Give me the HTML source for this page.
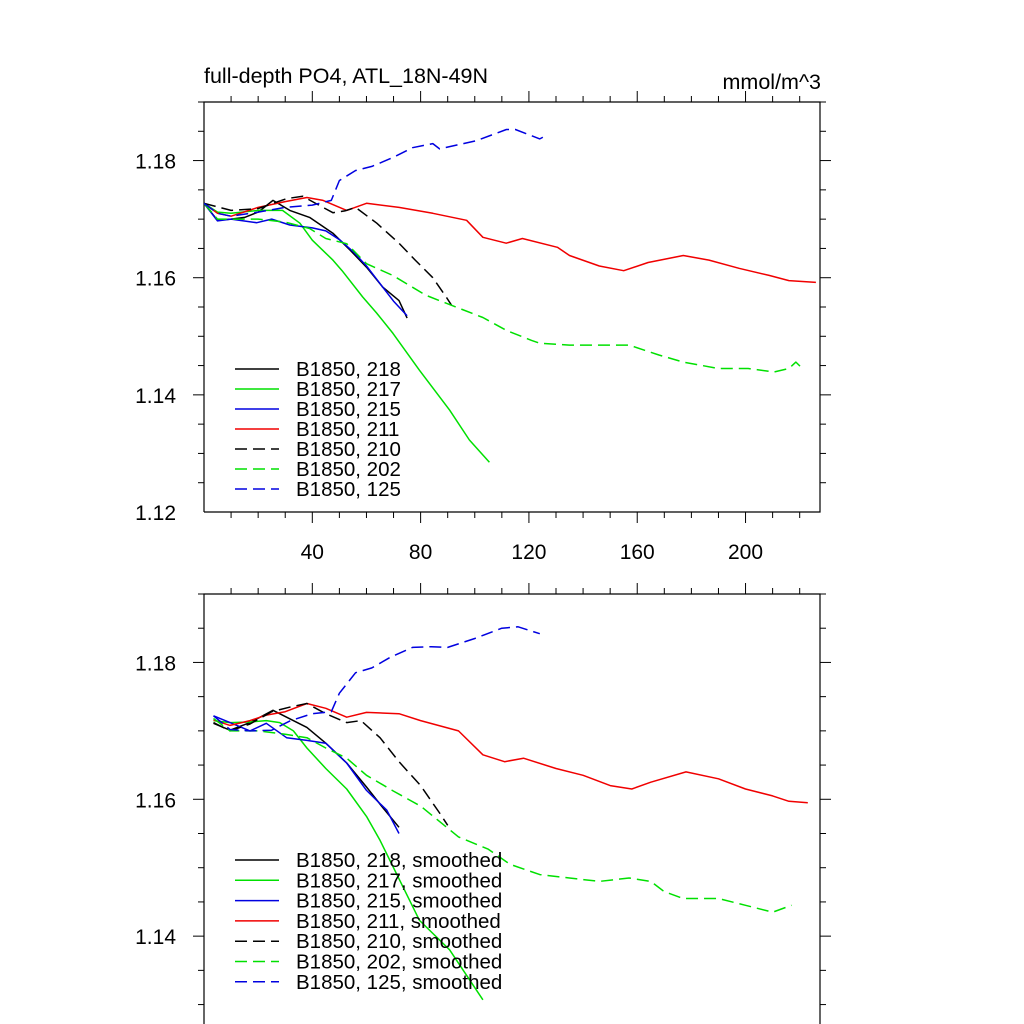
<!DOCTYPE html>
<html><head><meta charset="utf-8"><style>
html,body{margin:0;padding:0;background:#fff;overflow:hidden;width:1024px;height:1024px}
svg{display:block}
svg text{font-family:"Liberation Sans",sans-serif;fill:#000}
</style></head><body>
<svg id="chart" width="1024" height="1024" viewBox="0 0 1024 1024" xmlns="http://www.w3.org/2000/svg">
<text x="204" y="83" font-size="21.5">full-depth PO4, ATL_18N-49N</text>
<text x="821" y="89" font-size="21.5" text-anchor="end">mmol/m^3</text>
</svg>
<script>
// x tick labels and y tick labels
const xTickLabels = [40, 80, 120, 160, 200];
const yTickLabels = [1.12, 1.14, 1.16, 1.18];
const seriesNames = ["B1850, 218","B1850, 217","B1850, 215","B1850, 211","B1850, 210","B1850, 202","B1850, 125"];
const seriesColors = ["#000","#00e000","#0000e0","#f00000","#000","#00e000","#0000e0"];
const seriesDashed = [false,false,false,false,true,true,true];

// Top panel (raw) series: [year, value]
const raw218 = [[0,1.1727],[5,1.1698],[10,1.170],[15,1.1703],[20,1.1712],[25.5,1.1732],[31.7,1.1715],[39,1.1703],[47.6,1.1676],[54,1.1647],[60,1.1618],[66,1.1584],[72,1.1561],[75,1.1531]];
const raw217 = [[0,1.1727],[5,1.1712],[10,1.1710],[20,1.1715],[29,1.1715],[35.4,1.1693],[40,1.1664],[47.6,1.163],[51,1.1612],[58.6,1.1567],[63.7,1.154],[69.8,1.1505],[79.6,1.1442],[90.7,1.1374],[98,1.1323],[105.4,1.1285]];
const raw215 = [[0,1.1727],[5,1.1697],[10,1.170],[19.5,1.1694],[25,1.170],[31.7,1.169],[40,1.1685],[45,1.168],[50,1.1665],[55,1.1645],[60,1.162],[65,1.159],[70,1.156],[75,1.1535]];
const raw211 = [[0,1.1727],[5,1.171],[10,1.1705],[20,1.172],[30,1.173],[38,1.1737],[44,1.1732],[52.7,1.1715],[60,1.1727],[72,1.172],[84.5,1.171],[97,1.1698],[103,1.1669],[111.6,1.1659],[117.6,1.1667],[130.5,1.1652],[135,1.1638],[146,1.162],[155,1.1612],[164,1.1626],[177,1.1638],[186.5,1.163],[197.6,1.1616],[208.7,1.1604],[216,1.1595],[226,1.1592]];
const raw210 = [[0,1.1727],[10,1.1715],[20,1.1718],[30.5,1.1735],[36.5,1.1739],[42,1.1725],[47.6,1.1711],[52,1.1714],[56,1.172],[63.8,1.1693],[72,1.1659],[78,1.163],[84.5,1.160],[89.6,1.1566],[91.4,1.1553]];
const raw202 = [[0,1.1727],[5,1.170],[20,1.170],[30,1.1695],[39,1.1684],[45,1.1667],[52.7,1.1658],[60,1.1624],[69.7,1.1604],[82,1.157],[93,1.155],[103,1.1532],[111.7,1.151],[121,1.1493],[124,1.1488],[135,1.1485],[146,1.1485],[157,1.1485],[168,1.1468],[177,1.1456],[190,1.1445],[201,1.1445],[210.5,1.1439],[216,1.1445],[218.6,1.1456],[221,1.1445]];
const raw125 = [[0,1.1727],[5,1.171],[10,1.1705],[20,1.1712],[30,1.172],[40,1.1724],[47,1.1732],[50,1.1766],[56,1.1783],[62,1.179],[69.7,1.1805],[77,1.1822],[84.5,1.1829],[87,1.182],[100.6,1.1834],[111.7,1.1853],[115,1.1853],[124,1.1837],[126,1.1842]];

// Bottom panel (smoothed) series
const sm218 = [[3.5,1.1711],[9.6,1.1701],[17,1.1712],[25.5,1.173],[30.5,1.172],[38,1.1705],[45,1.1682],[52.7,1.1653],[60,1.1618],[66,1.1588],[72,1.1559]];
const sm217 = [[3.5,1.1715],[9.6,1.1712],[17,1.1713],[23,1.1715],[28,1.1712],[33,1.170],[38,1.1675],[45,1.1645],[52.7,1.1615],[60,1.1575],[65,1.154],[79.6,1.1423],[90.7,1.138],[103,1.1307]];
const sm215 = [[3.5,1.1722],[9.6,1.1712],[17,1.170],[23,1.1711],[30.5,1.169],[38,1.1686],[45,1.1682],[52.7,1.1653],[60,1.1613],[67.5,1.1584],[72,1.155]];
const sm211 = [[3.5,1.1716],[9.6,1.1708],[17,1.1715],[23,1.1723],[30,1.1728],[38,1.174],[45,1.1733],[52.7,1.172],[60,1.1727],[72,1.1725],[80,1.1715],[94,1.170],[103,1.1665],[111,1.1655],[118,1.166],[130,1.1645],[140,1.1635],[150,1.162],[158,1.1615],[165,1.1625],[178,1.164],[190,1.163],[200,1.1615],[210,1.1605],[216,1.1597],[223,1.1595]];
const sm210 = [[3.5,1.1712],[9.6,1.170],[17,1.171],[25,1.1728],[32,1.1735],[38,1.174],[45,1.1725],[52.7,1.1712],[58,1.1715],[65,1.169],[72,1.1655],[80,1.162],[87,1.158],[90,1.1562]];
const sm202 = [[3.5,1.1718],[9.6,1.170],[20,1.170],[30,1.1695],[38,1.169],[45,1.1675],[52.7,1.166],[60,1.1635],[70,1.1612],[80,1.159],[94,1.1545],[105,1.1527],[113,1.1505],[124,1.149],[135,1.1485],[146,1.148],[157,1.1485],[165,1.148],[170,1.1465],[177,1.1455],[190,1.1455],[200,1.1445],[210,1.1435],[217,1.1445]];
const sm125 = [[3.5,1.1722],[9.6,1.1702],[17,1.170],[25,1.1701],[32,1.1715],[40,1.1725],[47,1.1728],[50,1.1755],[56,1.1785],[62,1.1792],[69,1.1808],[77,1.1822],[84,1.1823],[90,1.1822],[100,1.1835],[110,1.185],[116,1.1852],[124,1.1842]];

const NS = "http://www.w3.org/2000/svg";
const svg = document.getElementById("chart");
function mk(tag, attrs, parent){const e=document.createElementNS(NS,tag);for(const k in attrs)e.setAttribute(k,attrs[k]);(parent||svg).appendChild(e);return e;}

const X0=204, X1=820, XMIN=0, XMAX=227.5, H=1024;
function xs(v){return X0+(v-XMIN)/(XMAX-XMIN)*(X1-X0);}

function panel(name, top, bottom, ymin, ymax, series, labelsSuffix, legendY, legendGap, showXLabels){
  const g = mk("g",{});
  
  
  const ys = v => bottom-(v-ymin)/(ymax-ymin)*(bottom-top);
  const vb = Math.min(bottom, H);
  const clipId = name+"-clip";
  const cp = mk("clipPath",{id:clipId},g);
  mk("rect",{x:X0,y:top,width:X1-X0,height:vb-top},cp);
  // frame as lines (only visible parts)
  const fd = "M"+X0+","+vb+"V"+top+"H"+X1+"V"+vb + (bottom<=H ? "H"+X0 : "");
  const fr = mk("path",{d:fd,fill:"none",stroke:"#000","stroke-width":1.2},g);
  
  
  for(let v=10; v<XMAX; v+=10){
    const major = v%40===0;
    const L = major?11:6;
    const x=xs(v);
    mk("line",{x1:x,y1:top,x2:x,y2:top-L,stroke:"#000","stroke-width":1},g);
    if(bottom+L<=H) mk("line",{x1:x,y1:bottom,x2:x,y2:bottom+L,stroke:"#000","stroke-width":1},g);
  }
  if(showXLabels){
    xTickLabels.forEach(v=>{
      const t=mk("text",{x:xs(v),y:bottom+47,"font-size":21,"text-anchor":"middle"},g);
      
      
      t.textContent=v;
    });
  }
  for(let v=ymin; v<=ymax+1e-9; v+=0.005){
    const major = Math.abs(Math.round(v*1000)%20)<1;
    const L = major?11:6;
    const y=ys(v);
    if(y<top-0.5||y>vb-0.5) continue;
    mk("line",{x1:X0,y1:y,x2:X0-L,y2:y,stroke:"#000","stroke-width":1},g);
    mk("line",{x1:X1,y1:y,x2:X1+L,y2:y,stroke:"#000","stroke-width":1},g);
  }
  yTickLabels.forEach(v=>{
    const y=ys(v);
    if(y+8>H) return;
    const t=mk("text",{x:176,y:y+8,"font-size":21,"text-anchor":"end"},g);
    
    
    t.textContent=v.toFixed(2);
  });
  const sg = mk("g",{"clip-path":"url(#"+clipId+")"},g);
  series.forEach((pts,i)=>{
    const d = pts.map((p,j)=>(j?"L":"M")+xs(p[0]).toFixed(1)+","+ys(p[1]).toFixed(1)).join("");
    const p = mk("path",{d:d,fill:"none",stroke:seriesColors[i],"stroke-width":1.5,"stroke-linejoin":"round"},sg);
    if(seriesDashed[i]) p.setAttribute("stroke-dasharray","12 6");
    
    
  });
  seriesNames.forEach((s,i)=>{
    const y = legendY+i*legendGap;
    const l = mk("line",{x1:235,y1:y,x2:279,y2:y,stroke:seriesColors[i],"stroke-width":1.5},g);
    if(seriesDashed[i]) l.setAttribute("stroke-dasharray","12 6");
    
    
    const t = mk("text",{x:296,y:y+7,"font-size":20.5},g);
    
    
    t.textContent = s+labelsSuffix;
  });
}
panel("top-panel",102,512,1.12,1.19,[raw218,raw217,raw215,raw211,raw210,raw202,raw125],"",369,20,true);
panel("bottom-panel",594,1073,1.12,1.19,[sm218,sm217,sm215,sm211,sm210,sm202,sm125],", smoothed",860,20.3,false);
</script>
</body></html>
